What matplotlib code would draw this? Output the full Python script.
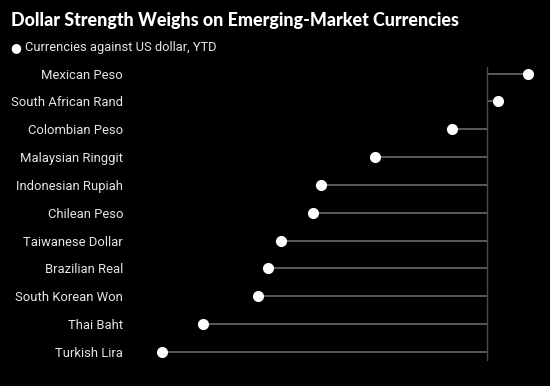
import matplotlib.pyplot as plt

currencies = ["Mexican Peso", "South African Rand", "Colombian Peso", "Malaysian Ringgit",
              "Indonesian Rupiah", "Chilean Peso", "Taiwanese Dollar", "Brazilian Real",
              "South Korean Won", "Thai Baht", "Turkish Lira"]
ytd_change = [1.26, 0.34, -1.09, -3.46, -5.13, -5.37, -6.35, -6.73, -7.06, -8.74, -10.01]

BG = "black"
W, H = 550, 386

fig = plt.figure(figsize=(W / 100, H / 100), dpi=100, facecolor=BG)
# axes placed in pixel terms: left 130, right 545, top 60, bottom 362
ax = fig.add_axes([130 / W, (H - 362) / H, (545 - 130) / W, (362 - 60) / H], facecolor=BG)

ypos = list(range(len(currencies)))
ax.hlines(ypos, 0, ytd_change, color="#5a5a5a", lw=1.4, zorder=1)
ax.axvline(0, ymin=0.007, ymax=0.978, color="#4a4a4a", lw=1.0, zorder=0)
ax.plot(ytd_change, ypos, "o", color="white", ms=8, mec="none", zorder=3)

ax.set_xlim(-10.99, 1.775)
ax.set_ylim(10.36, -0.49)
ax.set_yticks(ypos)
ax.set_yticklabels(currencies, color="#e6e6e6", fontsize=9.4, family="Roboto")
ax.tick_params(axis="y", length=0, pad=5)
ax.set_xticks([])
for s in ax.spines.values():
    s.set_visible(False)

fig.text(11 / W, 1 - 26 / H, "Dollar Strength Weighs on Emerging-Market Currencies",
         color="white", fontsize=12.9, fontweight="black", family="Lato", va="baseline")
fig.text(16 / W, 1 - 48 / H, "\u25CF", color="white", fontsize=9, ha="center", va="center",
         family="DejaVu Sans")
fig.text(25 / W, 1 - 48 / H, "Currencies against US dollar, YTD", color="#e6e6e6",
         fontsize=9.3, family="Roboto", va="center")

fig.savefig("out.png", dpi=100, facecolor=BG)
